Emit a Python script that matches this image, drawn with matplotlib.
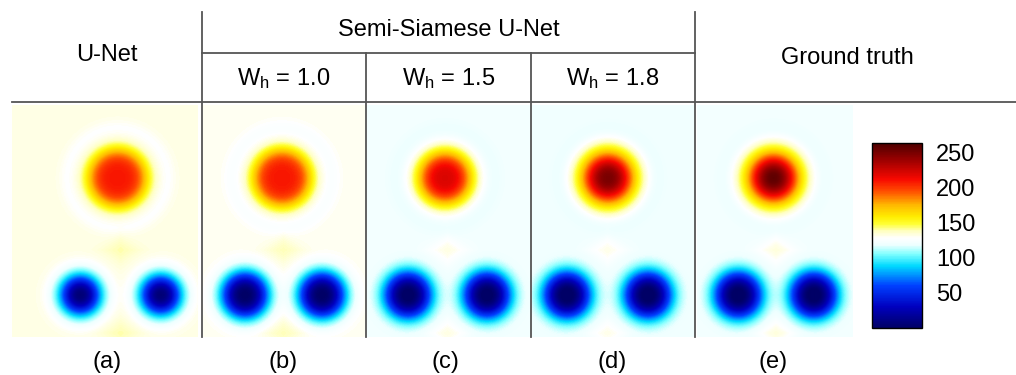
import numpy as np
import matplotlib
matplotlib.use("Agg")
import matplotlib.pyplot as plt
from matplotlib.colors import LinearSegmentedColormap

plt.rcParams['font.family'] = ['Liberation Sans', 'DejaVu Sans']
plt.rcParams['mathtext.fontset'] = 'custom'
plt.rcParams['mathtext.rm'] = 'Liberation Sans'
plt.rcParams['mathtext.it'] = 'Liberation Sans'

W, H = 1016, 375

# Data (pixel positions inside each panel)
panel_labels = ['(a)', '(b)', '(c)', '(d)', '(e)']
sub_headers = ['1.0', '1.5', '1.8']
cbar_ticks = [50, 100, 150, 200, 250]
vmin, vmax = 0, 263

panel_left = [12, 203, 367, 532, 697]
panel_right = [197, 366, 531, 695, 852]
img_top, img_bottom = 105, 337

background = [132, 130, 122, 121, 122]
red_cx = [105, 79, 78, 76, 76]
red_cy = [73, 73, 73, 73, 73]
red_amp = [76, 78, 98, 128, 135]
red_size = [30, 30, 28, 27, 26]
red_power = [4.0, 4.0, 3.0, 2.4, 2.3]

blue_cx1 = [68, 42, 41, 35, 41]
blue_cx2 = [148, 119, 120, 116, 116]
blue_cy = [190, 190, 190, 190, 190]
blue_amp = [-126, -130, -124, -124, -125]
blue_size = [21, 24, 24, 24, 24]
blue_power = [2.3, 2.6, 2.6, 2.6, 2.6]

bump_amp = [7, 8, 10, 10, 11]

# colour map: white band around 125
cm_vals = [0, 30, 60, 88, 105, 118, 128, 138, 148, 158, 175, 195, 212, 240, 263]
cm_cols = [(0.0, 0.0, 0.4), (0.0, 0.0, 0.75), (0.0, 0.25, 1.0), (0.0, 0.85, 1.0),
           (0.5, 1.0, 1.0), (0.93, 1.0, 1.0), (1.0, 1.0, 1.0), (1.0, 1.0, 0.75),
           (1.0, 1.0, 0.2), (1.0, 0.93, 0.0), (1.0, 0.72, 0.0), (1.0, 0.3, 0.0),
           (0.97, 0.03, 0.0), (0.6, 0.0, 0.0), (0.3, 0.0, 0.0)]
cmap = LinearSegmentedColormap.from_list(
    'rb', list(zip([v / vmax for v in cm_vals], cm_cols)))

fig = plt.figure(figsize=(W / 100, H / 100), dpi=100)


def fig_rect(x0, y0, x1, y1):
    return [x0 / W, 1 - y1 / H, (x1 - x0) / W, (y1 - y0) / H]


im = None
for i in range(5):
    w = panel_right[i] - panel_left[i]
    h = img_bottom - img_top
    xx, yy = np.meshgrid(np.arange(w) + 0.5, np.arange(h) + 0.5)
    f = np.full(xx.shape, float(background[i]))
    r = np.hypot(xx - red_cx[i], yy - red_cy[i])
    f += red_amp[i] * np.exp(-(r / red_size[i]) ** red_power[i])
    # faint ring around the red blob
    f -= 4 * np.exp(-((r - 50) / 8) ** 2)
    for cx in (blue_cx1[i], blue_cx2[i]):
        rb = np.hypot(xx - cx, yy - blue_cy[i])
        f += blue_amp[i] * np.exp(-(rb / blue_size[i]) ** blue_power[i])
    mid = (blue_cx1[i] + blue_cx2[i]) / 2
    for cy in (blue_cy[i] - 45, blue_cy[i] + 38):
        rm = np.abs(xx - mid) / 1.4 + np.abs(yy - cy)
        f += bump_amp[i] * np.exp(-(rm / 14) ** 2)
    ax = fig.add_axes(fig_rect(panel_left[i], img_top, panel_right[i], img_bottom))
    im = ax.imshow(f, cmap=cmap, vmin=vmin, vmax=vmax, aspect='auto',
                   interpolation='bilinear')
    ax.axis('off')

cax = fig.add_axes(fig_rect(872, 143, 922, 328))
cb = fig.colorbar(im, cax=cax, ticks=cbar_ticks)
cb.outline.set_linewidth(1.0)
cax.tick_params(length=0, pad=10, labelsize=17)

# overlay for header lines and labels
ov = fig.add_axes([0, 0, 1, 1])
ov.set_xlim(0, W)
ov.set_ylim(H, 0)
ov.axis('off')
ov.patch.set_alpha(0)
lc = '#555555'
ov.plot([12, W], [102, 102], color=lc, lw=1.3)
ov.plot([202, 695], [53, 53], color=lc, lw=1.3)
for x in (202, 695):
    ov.plot([x, x], [12, 337], color=lc, lw=1.3)
for x in (366, 531):
    ov.plot([x, x], [53, 337], color=lc, lw=1.3)

fs = 17
ov.text(107, 55, 'U-Net', fontsize=fs, ha='center', va='center')
ov.text(449, 30, 'Semi-Siamese U-Net', fontsize=fs, ha='center', va='center')
ov.text(847, 58, 'Ground truth', fontsize=fs, ha='center', va='center')
for x, s in zip([284, 449, 613], sub_headers):
    ov.text(x, 79, r'W$_{\mathrm{h}}$ = ' + s, fontsize=fs, ha='center', va='center')
for x, s in zip([107, 283, 445, 612, 773], panel_labels):
    ov.text(x, 362, s, fontsize=fs, ha='center', va='center')

fig.savefig('out.png', dpi=100)
